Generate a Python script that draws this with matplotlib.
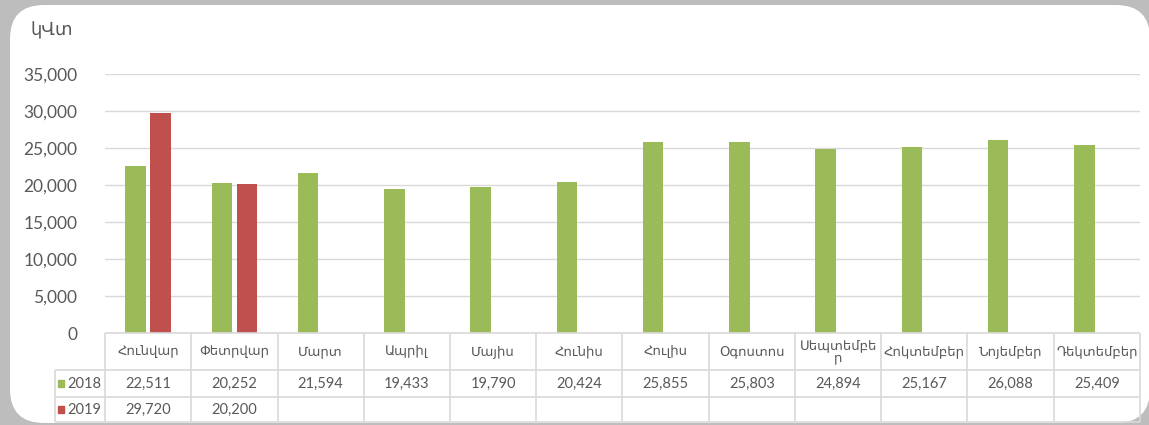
import matplotlib.pyplot as plt
from matplotlib.patches import FancyBboxPatch, Rectangle

# Data
months = ["Հունվար", "Փետրվար", "Մարտ", "Ապրիլ", "Մայիս", "Հունիս",
          "Հուլիս", "Օգոստոս", "Սեպտեմբե\nր", "Հոկտեմբեր", "Նոյեմբեր", "Դեկտեմբեր"]
vals_2018 = [22511, 20252, 21594, 19433, 19790, 20424,
             25855, 25803, 24894, 25167, 26088, 25409]
vals_2019 = [29720, 20200]
series_names = ["2018", "2019"]
colors = ["#9BBB59", "#C0504D"]
yticks = [0, 5000, 10000, 15000, 20000, 25000, 30000, 35000]

W, H = 1149, 425
txt = "#595959"
grid = "#D9D9D9"

plt.rcParams["font.family"] = ["Lato", "DejaVu Sans"]
fig = plt.figure(figsize=(W / 100, H / 100), dpi=100, facecolor="#BDBDBD")

# white rounded panel (pixel coords)
panel = FancyBboxPatch((10, 2), 1140, 418, boxstyle="round,pad=0,rounding_size=34",
                       transform=None, facecolor="white", edgecolor="none", zorder=-5)
fig.patches.append(panel)

# main bar axes
x0, x1, ytop, ybot = 105, 1140, 74, 333
ax = fig.add_axes([x0 / W, (H - ybot) / H, (x1 - x0) / W, (ybot - ytop) / H])
ax.set_facecolor("none")
n = len(months)
xs = [i + 0.5 for i in range(n)]
w = 0.235
ax.bar([x - 0.145 for x in xs], vals_2018, width=w, color=colors[0], zorder=3)
ax.bar([x + 0.145 for x in xs[:len(vals_2019)]], vals_2019, width=w, color=colors[1], zorder=3)
ax.set_xlim(0, n)
ax.set_ylim(0, 35000)
ax.set_yticks(yticks)
ax.set_yticklabels([f"{v:,}" for v in yticks], fontsize=12.5, color=txt)
ax.tick_params(axis="y", length=0, pad=20)
ax.set_xticks([])
ax.grid(axis="y", color=grid, lw=1, zorder=0)
for s in ax.spines.values():
    s.set_visible(False)

fig.text(30 / W, (H - 30) / H, "կՎտ", fontsize=13, color=txt, va="center", ha="left")

# data table below
tl, tb = 55, 422
px = (x1 - x0) / n
ax_t = fig.add_axes([tl / W, (H - tb) / H, (x1 - tl) / W, (tb - ybot) / H])
ax_t.set_xlim(-(x0 - tl) / px, n)
ax_t.set_ylim(tb, ybot)
ax_t.axis("off")
left = -(x0 - tl) / px
r1, r2, r3 = 370, 397, 422
lk = dict(color=grid, lw=1.2, solid_capstyle="butt", clip_on=False)
ax_t.plot([0, n], [ybot, ybot], **lk)
for yy in (r1, r2, r3):
    ax_t.plot([left, n], [yy, yy], **lk)
for i in range(n + 1):
    ax_t.plot([i, i], [ybot, r3], **lk)
ax_t.plot([left, left], [r1, r3], **lk)

for i, m in enumerate(months):
    ax_t.text(i + 0.5, (ybot + r1) / 2, m, ha="center", va="center",
              fontsize=9.5, color=txt, linespacing=0.95)
for i, v in enumerate(vals_2018):
    ax_t.text(i + 0.5, (r1 + r2) / 2, f"{v:,}", ha="center", va="center", fontsize=10.5, color=txt)
for i, v in enumerate(vals_2019):
    ax_t.text(i + 0.5, (r2 + r3) / 2, f"{v:,}", ha="center", va="center", fontsize=10.5, color=txt)

for name, c, (ya, yb) in zip(series_names, colors, [(r1, r2), (r2, r3)]):
    ym = (ya + yb) / 2
    ax_t.add_patch(Rectangle((left + 0.03, ym - 3.5), 0.08, 7, color=c))
    ax_t.text(left + 0.14, ym, name, ha="left", va="center", fontsize=10.5, color=txt)

fig.savefig("out.png", dpi=100, facecolor=fig.get_facecolor())
